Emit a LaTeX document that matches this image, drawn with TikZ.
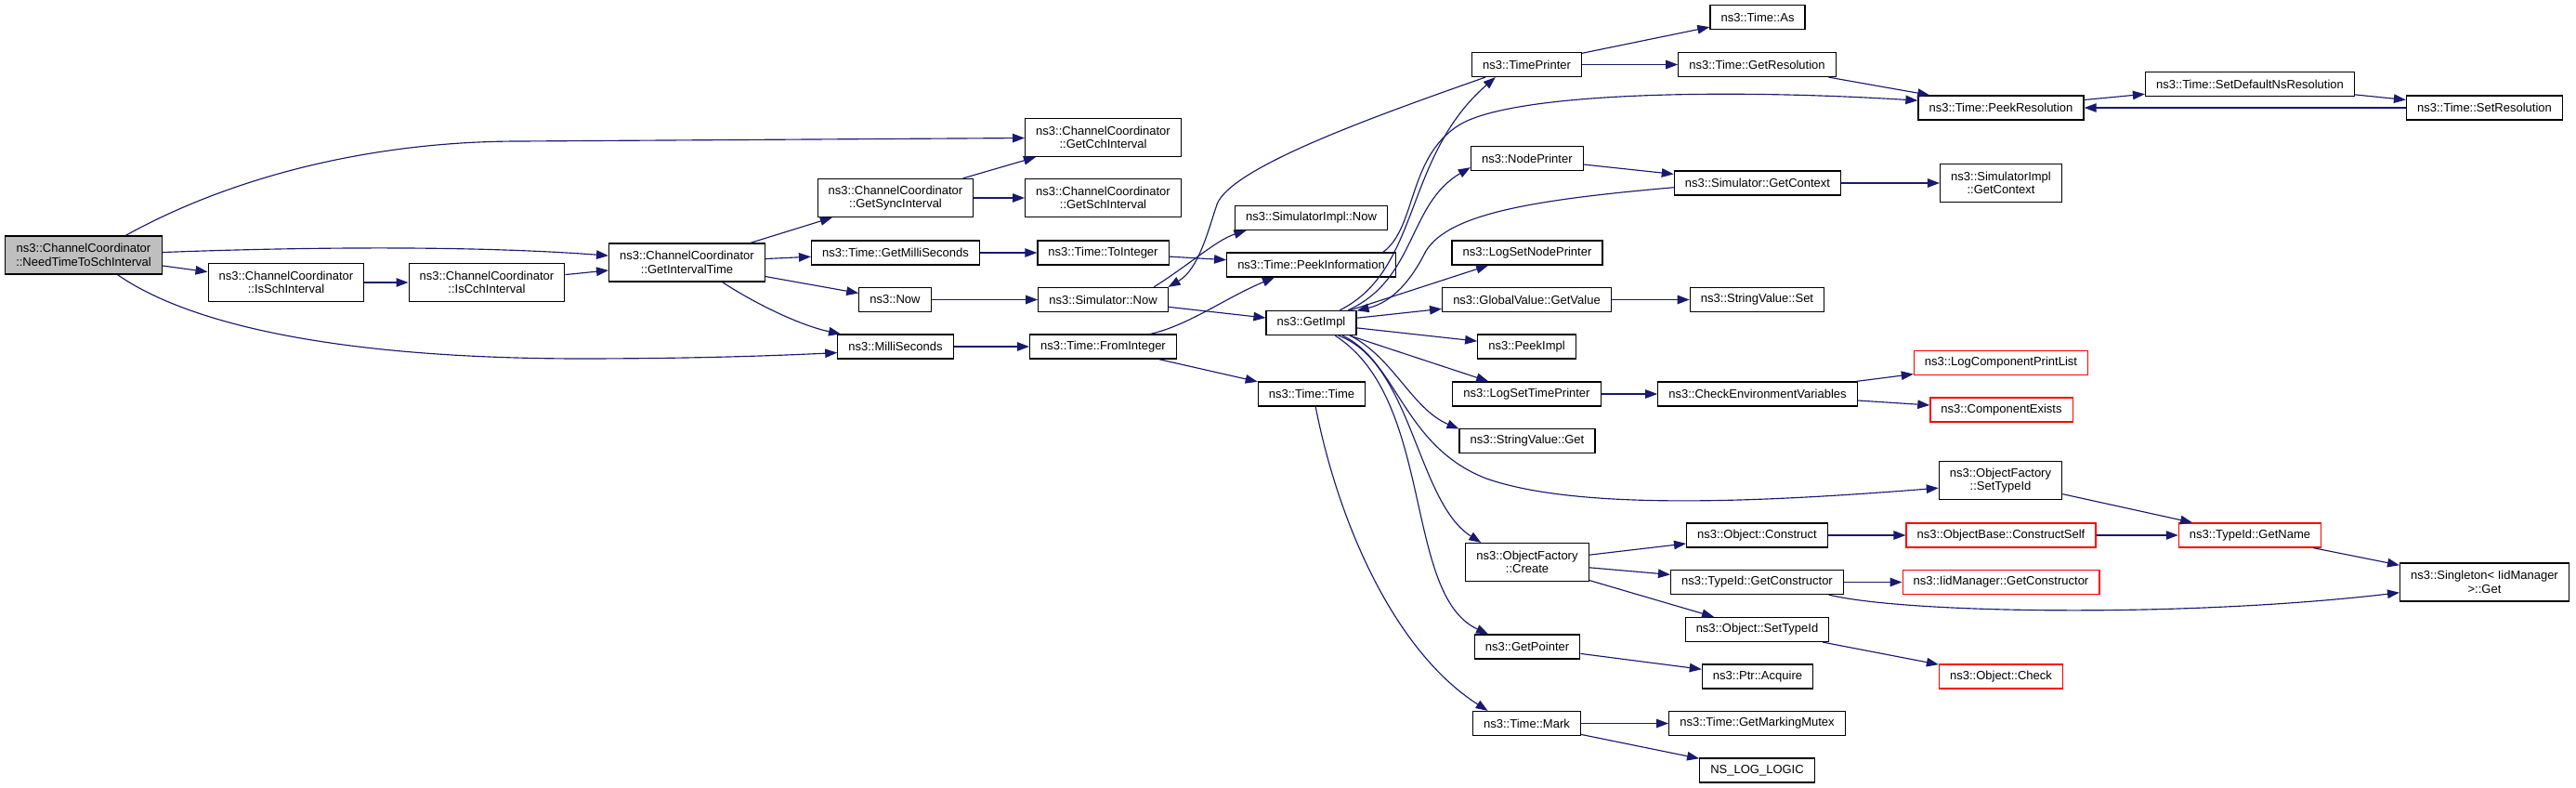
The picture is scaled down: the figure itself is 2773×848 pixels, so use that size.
\documentclass[tikz,border=0pt]{standalone}
\usepackage{fontspec}
\setmainfont{Liberation Sans}
\usepackage{tikz}
\usetikzlibrary{arrows.meta}
\definecolor{cgedge}{HTML}{191970}
\definecolor{cgroot}{HTML}{BFBFBF}
\definecolor{cgred}{HTML}{FF0000}

\begin{document}
\begin{tikzpicture}[
  x=0.02cm,y=-0.02cm,
  font=\fontsize{7.4}{8.15}\selectfont,
  fn/.style={draw=black,fill=white,line width=0.7pt,minimum height=0.52cm,
             inner ysep=0pt,inner xsep=6.6pt,align=center},
  fn2/.style={fn,minimum height=0.82cm},
  fnred/.style={fn,draw=cgred},
  root/.style={fn2,fill=cgroot},
  call/.style={-{Triangle[length=0.26cm,width=0.19cm]},line width=0.65pt,cgedge}]

\useasboundingbox (0,0) rectangle (2773,848);

% ---- left: the channel coordinator chain ----
\node[root] (need) at (90,274.5) {ns3::ChannelCoordinator\\::NeedTimeToSchInterval};
\node[fn2] (issch) at (308,304) {ns3::ChannelCoordinator\\::IsSchInterval};
\node[fn2] (iscch) at (524,304) {ns3::ChannelCoordinator\\::IsCchInterval};
\node[fn2] (ivltime) at (739.5,282.5) {ns3::ChannelCoordinator\\::GetIntervalTime};

% ---- second column ----
\node[fn2] (sync) at (964,213) {ns3::ChannelCoordinator\\::GetSyncInterval};
\node[fn] (getms) at (964,272) {ns3::Time::GetMilliSeconds};
\node[fn] (now) at (963.5,322.5) {ns3::Now};
\node[fn] (ms) at (964,373) {ns3::MilliSeconds};

% ---- third column ----
\node[fn2] (cch) at (1187.5,148) {ns3::ChannelCoordinator\\::GetCchInterval};
\node[fn2] (sch) at (1187.5,213) {ns3::ChannelCoordinator\\::GetSchInterval};
\node[fn] (toint) at (1187.5,272) {ns3::Time::ToInteger};
\node[fn] (simnow) at (1187.5,322.5) {ns3::Simulator::Now};
\node[fn] (fromint) at (1187.5,373) {ns3::Time::FromInteger};

% ---- fourth column ----
\node[fn] (implnow) at (1411.5,234.5) {ns3::SimulatorImpl::Now};
\node[fn] (peekinfo) at (1411.5,285) {ns3::Time::PeekInformation};
\node[fn] (getimpl) at (1411.5,347.5) {ns3::GetImpl};
\node[fn] (ttime) at (1412,424) {ns3::Time::Time};

% ---- fifth column ----
\node[fn] (tprint) at (1643.5,69.5) {ns3::TimePrinter};
\node[fn] (nprint) at (1643.8,170.5) {ns3::NodePrinter};
\node[fn] (lognp) at (1644,272) {ns3::LogSetNodePrinter};
\node[fn] (getval) at (1643.5,322.5) {ns3::GlobalValue::GetValue};
\node[fn] (peekimpl) at (1643.5,373) {ns3::PeekImpl};
\node[fn] (logtp) at (1643.5,424) {ns3::LogSetTimePrinter};
\node[fn] (svget) at (1644,474.5) {ns3::StringValue::Get};
\node[fn2] (create) at (1644,605) {ns3::ObjectFactory\\::Create};
\node[fn] (getptr) at (1644,696) {ns3::GetPointer};
\node[fn] (mark) at (1643.5,778.5) {ns3::Time::Mark};

% ---- sixth column ----
\node[fn] (tas) at (1892,18.5) {ns3::Time::As};
\node[fn] (getres) at (1891.5,69.5) {ns3::Time::GetResolution};
\node[fn] (getctx) at (1892,197) {ns3::Simulator::GetContext};
\node[fn] (svset) at (1891.5,322.5) {ns3::StringValue::Set};
\node[fn] (checkenv) at (1892,424) {ns3::CheckEnvironmentVariables};
\node[fn] (construct) at (1891.5,576) {ns3::Object::Construct};
\node[fn] (getctor) at (1891.5,626.5) {ns3::TypeId::GetConstructor};
\node[fn] (osetid) at (1891.5,677.5) {ns3::Object::SetTypeId};
\node[fn] (acquire) at (1892,728) {ns3::Ptr::Acquire};
\node[fn] (mutex) at (1891.5,778.5) {ns3::Time::GetMarkingMutex};
\node[fn] (nslog) at (1891.5,829) {NS\_LOG\_LOGIC};

% ---- seventh column ----
\node[fn] (peekres) at (2154,116) {ns3::Time::PeekResolution};
\node[fn2] (implctx) at (2154,197) {ns3::SimulatorImpl\\::GetContext};
\node[fnred] (printlist) at (2154,390.5) {ns3::LogComponentPrintList};
\node[fnred] (compexists) at (2154.5,441) {ns3::ComponentExists};
\node[fn2] (setid) at (2153.5,517) {ns3::ObjectFactory\\::SetTypeId};
\node[fnred] (cself) at (2154,576) {ns3::ObjectBase::ConstructSelf};
\node[fnred] (iidctor) at (2154,626.5) {ns3::IidManager::GetConstructor};
\node[fnred] (check) at (2154,728) {ns3::Object::Check};

% ---- right end ----
\node[fn] (defres) at (2422,90.5) {ns3::Time::SetDefaultNsResolution};
\node[fnred] (getname) at (2422,576) {ns3::TypeId::GetName};
\node[fn] (setres) at (2674.5,116) {ns3::Time::SetResolution};
\node[fn2] (singleton) at (2674.5,626.5) {ns3::Singleton< IidManager\\ >::Get};

% ---- calls from the root ----
\draw[call] (need.25) .. controls (250,190) and (400,152) .. (560,152) -- (cch);
\draw[call] (need.2) .. controls (350,265) and (520,265) .. (ivltime.175);
\draw[call] (need) -- (issch);
\draw[call] (need.-30) .. controls (190,340) and (330,385) .. (620,386)
  .. controls (760,386) and (850,382) .. (ms.186);
\draw[call] (issch) -- (iscch);
\draw[call] (iscch) -- (ivltime);

% ---- GetIntervalTime and its callees ----
\draw[call] (ivltime) -- (sync);
\draw[call] (ivltime) -- (getms);
\draw[call] (ivltime) -- (now);
\draw[call] (ivltime.-29) .. controls (810,325) and (860,350) .. (ms.167);
\draw[call] (sync) -- (cch);
\draw[call] (sync) -- (sch);
\draw[call] (getms) -- (toint);
\draw[call] (now) -- (simnow);
\draw[call] (ms) -- (fromint);
\draw[call] (toint) -- (peekinfo);
\draw[call] (simnow.14) .. controls (1280,285) and (1310,258) .. (implnow.191);
\draw[call] (simnow) -- (getimpl);
\draw[call] (fromint.15) .. controls (1280,350) and (1320,320) .. (peekinfo.199);
\draw[call] (fromint) -- (ttime);
\draw[call] (peekinfo.10) .. controls (1525,245) and (1515,170) .. (1570,135)
  .. controls (1625,100) and (1850,95) .. (peekres.175);
\draw[call] (ttime.-73) .. controls (1440,560) and (1500,700) .. (mark.162);

% ---- GetImpl fan ----
\draw[call] (getimpl.24) .. controls (1530,290) and (1510,170) .. (tprint.202);
\draw[call] (getimpl.19) .. controls (1525,300) and (1515,220) .. (nprint.189);
\draw[call] (getimpl) -- (lognp);
\draw[call] (getimpl) -- (getval);
\draw[call] (getimpl) -- (peekimpl);
\draw[call] (getimpl) -- (logtp);
\draw[call] (getimpl.-18) .. controls (1500,385) and (1520,440) .. (svget.170);
\draw[call] (getimpl.-22) .. controls (1505,390) and (1510,480) .. (1600,515)
  .. controls (1700,550) and (1900,540) .. (setid.187);
\draw[call] (getimpl.-25) .. controls (1520,390) and (1525,540) .. (create.157);
\draw[call] (getimpl.-28) .. controls (1545,430) and (1510,640) .. (getptr.162);

% ---- printers and resolution ----
\draw[call] (tprint) -- (tas);
\draw[call] (tprint) -- (getres);
\draw[call] (tprint.197) .. controls (1480,125) and (1325,180) .. (1310,220)
  .. controls (1300,250) and (1290,290) .. (simnow.11);
\draw[call] (getres) -- (peekres);
\draw[call] (peekres) -- (defres);
\draw[call] (defres) -- (setres);
\draw[call] (setres) -- (peekres);
\draw[call] (nprint) -- (getctx);
\draw[call] (getctx) -- (implctx);
\draw[call] (getctx.183) .. controls (1650,215) and (1560,230) .. (1535,270)
  .. controls (1520,300) and (1500,325) .. (getimpl.15);
\draw[call] (getval) -- (svset);
\draw[call] (logtp) -- (checkenv);
\draw[call] (checkenv) -- (printlist);
\draw[call] (checkenv) -- (compexists);

% ---- object factory ----
\draw[call] (create) -- (construct);
\draw[call] (create) -- (getctor);
\draw[call] (create) -- (osetid);
\draw[call] (construct) -- (cself);
\draw[call] (cself) -- (getname);
\draw[call] (setid) -- (getname);
\draw[call] (getname) -- (singleton);
\draw[call] (getctor) -- (iidctor);
\draw[call] (getctor.-10) .. controls (2050,660) and (2350,665) .. (singleton.187);
\draw[call] (osetid) -- (check);
\draw[call] (getptr) -- (acquire);
\draw[call] (mark) -- (mutex);
\draw[call] (mark) -- (nslog);
\end{tikzpicture}
\end{document}
